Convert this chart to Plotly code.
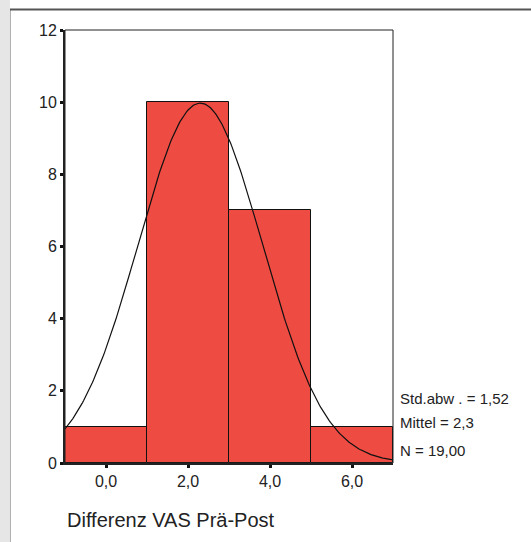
import numpy as np
import plotly.graph_objects as go

# Data
bin_centers = [0.0, 2.0, 4.0, 6.0]
bin_counts = [1, 10, 7, 1]
bin_width = 2.0
std_dev = 1.52
mean_val = 2.3
n_total = 19
x_ticks = [0, 2, 4, 6]
x_tick_labels = ["0,0", "2,0", "4,0", "6,0"]
y_ticks = [0, 2, 4, 6, 8, 10, 12]
stats_labels = ["Std.abw . = 1,52", "Mittel = 2,3", "N = 19,00"]
x_label = "Differenz VAS Prä-Post"

# Fitted normal curve from the displayed statistics
xs = np.linspace(-1, 7, 300)
ys = n_total * bin_width / (std_dev * np.sqrt(2 * np.pi)) * np.exp(-0.5 * ((xs - mean_val) / std_dev) ** 2)

FONT = "Liberation Sans, Arial, sans-serif"
NARROW = "Liberation Sans Narrow, Arial Narrow, Liberation Sans, Arial, sans-serif"

fig = go.Figure()
fig.add_trace(go.Bar(
    x=bin_centers, y=bin_counts, width=bin_width,
    marker=dict(color="#EE4B43", line=dict(color="#111111", width=1)),
    hoverinfo="skip",
))
fig.add_trace(go.Scatter(
    x=xs, y=ys, mode="lines",
    line=dict(color="#111111", width=1.2),
    hoverinfo="skip",
))

L, R, T, B = 65, 138, 30, 79
W, H = 531, 542
pw, ph = W - L - R, H - T - B

def px(xp):
    return (xp - L) / pw

def py(yp):
    return (H - B - yp) / ph

shapes = [
    # left grey strip
    dict(type="rect", xref="paper", yref="paper", x0=px(0), x1=px(10), y0=py(H), y1=py(0),
         fillcolor="#e6e6e6", line=dict(width=0), layer="below"),
    dict(type="line", xref="paper", yref="paper", x0=px(10.5), x1=px(10.5), y0=py(H), y1=py(9),
         line=dict(color="#b0b0b0", width=1)),
    # top line
    dict(type="line", xref="paper", yref="paper", x0=px(10), x1=px(W), y0=py(9.5), y1=py(9.5),
         line=dict(color="#555555", width=2)),
    # plot frame (top/right)
    dict(type="rect", xref="paper", yref="paper", x0=0, x1=1, y0=0, y1=1,
         line=dict(color="#222222", width=1), layer="above"),
]

annotations = []
for lab, yv in zip(stats_labels, [1.80, 1.11, 0.36]):
    annotations.append(dict(text=lab, x=px(398), xref="paper", y=yv, yref="y",
                            xanchor="left", yanchor="middle", showarrow=False,
                            font=dict(family=NARROW, size=15, color="#222222")))
annotations.append(dict(text=x_label, x=px(65), xref="paper", y=py(520), yref="paper",
                        xanchor="left", yanchor="middle", showarrow=False,
                        font=dict(family=FONT, size=20, color="#222222")))

fig.update_layout(
    width=W, height=H,
    margin=dict(l=L, r=R, t=T, b=B, pad=0),
    paper_bgcolor="white", plot_bgcolor="white",
    showlegend=False,
    bargap=0,
    shapes=shapes,
    annotations=annotations,
    font=dict(family=FONT, size=16, color="#222222"),
    xaxis=dict(range=[-1, 7], tickvals=x_ticks, ticktext=x_tick_labels,
               ticks="outside", ticklen=3, tickwidth=3, tickcolor="#111111",
               showline=True, linecolor="#222222", linewidth=2,
               showgrid=False, zeroline=False, fixedrange=True,
               tickfont=dict(family=FONT, size=16, color="#222222")),
    yaxis=dict(range=[0, 12], tickvals=y_ticks,
               ticks="outside", ticklen=3, tickwidth=3, tickcolor="#111111",
               showline=True, linecolor="#222222", linewidth=2,
               showgrid=False, zeroline=False, fixedrange=True,
               tickfont=dict(family=FONT, size=16, color="#222222")),
)

fig.write_html("out.html", config={"displayModeBar": False},
               post_script="document.body.style.margin='0';")
